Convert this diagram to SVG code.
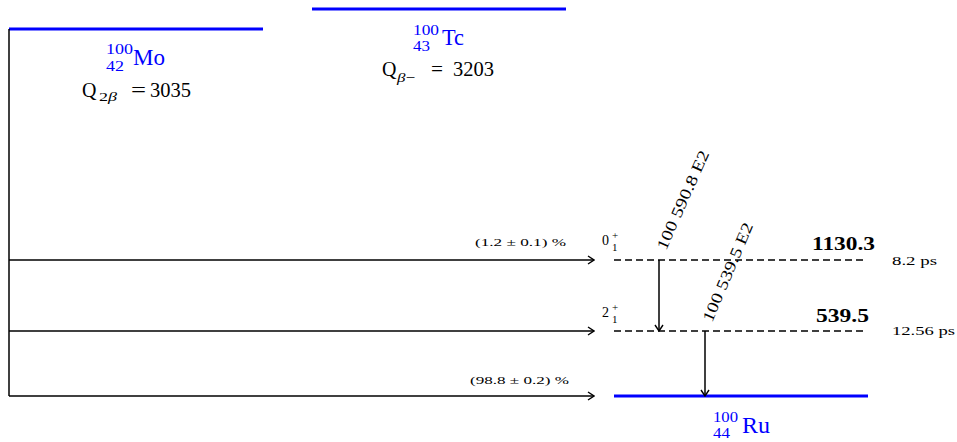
<svg xmlns="http://www.w3.org/2000/svg" width="957" height="442" viewBox="0 0 957 442">
<style>
.t{font-family:"Liberation Serif","DejaVu Serif",serif;fill:#000}
.b{fill:#0000ff}
.lvl{stroke:#0000ff;stroke-width:3;fill:none}
.ln{stroke:#000;stroke-width:1.5;fill:none}
.dash{stroke:#000;stroke-width:1.6;stroke-dasharray:7,4;fill:none}
</style>
<defs>
<marker id="ah" viewBox="0 0 10 10" refX="9" refY="5" markerWidth="10" markerHeight="10" markerUnits="userSpaceOnUse" orient="auto">
<path d="M3,1 L9,5 L3,9" fill="none" stroke="#000" stroke-width="1.4"/>
</marker>
</defs>
<rect width="957" height="442" fill="#fff"/>
<g id="mo">
<line class="lvl" x1="9" y1="29" x2="263" y2="29"/>
<text class="t b" x="106" y="54" font-size="15" textLength="27" lengthAdjust="spacingAndGlyphs">100</text>
<text class="t b" x="106" y="71" font-size="15" textLength="18" lengthAdjust="spacingAndGlyphs">42</text>
<text class="t b" x="133" y="65" font-size="23" textLength="32" lengthAdjust="spacingAndGlyphs">Mo</text>
<text class="t" x="82" y="97" font-size="20">Q</text>
<text class="t" x="99" y="101" font-size="13" textLength="18" lengthAdjust="spacingAndGlyphs">2<tspan font-style="italic">β</tspan></text>
<text class="t" x="131" y="97" font-size="20" textLength="15" lengthAdjust="spacingAndGlyphs">=</text>
<text class="t" x="150" y="97" font-size="20" textLength="41" lengthAdjust="spacingAndGlyphs">3035</text>
</g>
<g id="tc">
<line class="lvl" x1="312" y1="9" x2="566" y2="9"/>
<text class="t b" x="413" y="35" font-size="15" textLength="26" lengthAdjust="spacingAndGlyphs">100</text>
<text class="t b" x="413" y="51" font-size="15" textLength="17" lengthAdjust="spacingAndGlyphs">43</text>
<text class="t b" x="442" y="45" font-size="23" textLength="22" lengthAdjust="spacingAndGlyphs">Tc</text>
<text class="t" x="382" y="76" font-size="20">Q</text>
<text class="t" x="397" y="82" font-size="13" textLength="18" lengthAdjust="spacingAndGlyphs"><tspan font-style="italic">β</tspan>−</text>
<text class="t" x="431" y="76" font-size="20" textLength="12" lengthAdjust="spacingAndGlyphs">=</text>
<text class="t" x="453" y="76" font-size="20" textLength="41" lengthAdjust="spacingAndGlyphs">3203</text>
</g>
<g id="ru">
<line class="lvl" x1="614" y1="396" x2="868" y2="396"/>
<text class="t b" x="713" y="422" font-size="15" textLength="25" lengthAdjust="spacingAndGlyphs">100</text>
<text class="t b" x="713" y="438" font-size="15" textLength="17" lengthAdjust="spacingAndGlyphs">44</text>
<text class="t b" x="742" y="433" font-size="23" textLength="28" lengthAdjust="spacingAndGlyphs">Ru</text>
</g>
<g id="level0">
<line class="dash" x1="614" y1="260" x2="866" y2="260"/>
<text class="t" x="602" y="245" font-size="14">0</text>
<text class="t" x="612" y="239" font-size="11">+</text>
<text class="t" x="612" y="251" font-size="11">1</text>
<text class="t" x="812" y="250" font-size="18" font-weight="bold" textLength="63" lengthAdjust="spacingAndGlyphs">1130.3</text>
<text class="t" x="892" y="265" font-size="13" textLength="45" lengthAdjust="spacingAndGlyphs">8.2 ps</text>
</g>
<g id="level2">
<line class="dash" x1="614" y1="331" x2="866" y2="331"/>
<text class="t" x="602" y="317" font-size="14">2</text>
<text class="t" x="612" y="311" font-size="11">+</text>
<text class="t" x="612" y="323" font-size="11">1</text>
<text class="t" x="816" y="322" font-size="18" font-weight="bold" textLength="53" lengthAdjust="spacingAndGlyphs">539.5</text>
<text class="t" x="892" y="335" font-size="13" textLength="63" lengthAdjust="spacingAndGlyphs">12.56 ps</text>
</g>
<g id="connectors">
<line class="ln" x1="9" y1="29" x2="9" y2="396"/>
<line class="ln" x1="9" y1="260" x2="594" y2="260" marker-end="url(#ah)"/>
<line class="ln" x1="9" y1="331" x2="594" y2="331" marker-end="url(#ah)"/>
<line class="ln" x1="9" y1="396" x2="594" y2="396" marker-end="url(#ah)"/>
<text class="t" x="475" y="246" font-size="11" textLength="91" lengthAdjust="spacingAndGlyphs">(1.2 ± 0.1) %</text>
<text class="t" x="470" y="384" font-size="11" textLength="99" lengthAdjust="spacingAndGlyphs">(98.8 ± 0.2) %</text>
<line class="ln" x1="659" y1="260" x2="659" y2="331" marker-end="url(#ah)"/>
<line class="ln" x1="705" y1="331" x2="705" y2="396" marker-end="url(#ah)"/>
<text class="t" font-size="16" transform="translate(666,251) rotate(-66)" textLength="107" lengthAdjust="spacingAndGlyphs">100 590.8 E2</text>
<text class="t" font-size="16" transform="translate(712,323) rotate(-67)" textLength="106" lengthAdjust="spacingAndGlyphs">100 539.5 E2</text>
</g>
</svg>
